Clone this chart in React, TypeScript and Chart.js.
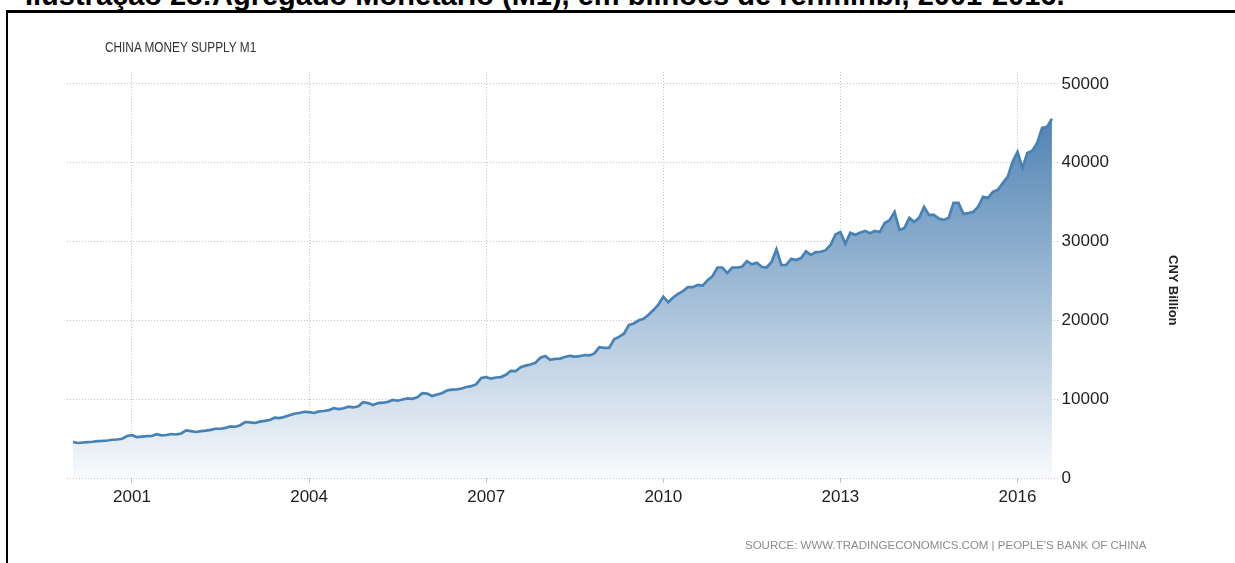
import React, { useEffect, useRef } from "react";
import { Chart, registerables } from "chart.js";

Chart.register(...registerables);

// China money supply M1, monthly, CNY billion (Jan 2000 - Aug 2016)
const startYear = 2000;
const m1_2000 = [4570, 4440, 4500, 4560, 4600, 4680, 4700, 4760, 4850, 4880, 4980, 5330];
const m1_2001 = [5430, 5200, 5250, 5300, 5330, 5560, 5400, 5450, 5580, 5520, 5650, 6050];
const m1_2002 = [5950, 5840, 5950, 6000, 6100, 6250, 6250, 6350, 6550, 6500, 6700, 7100];
const m1_2003 = [7050, 6980, 7150, 7250, 7350, 7650, 7600, 7750, 7950, 8150, 8250, 8400];
const m1_2004 = [8350, 8250, 8450, 8500, 8600, 8850, 8750, 8850, 9050, 8950, 9100, 9620];
const m1_2005 = [9500, 9260, 9500, 9550, 9650, 9900, 9800, 9950, 10100, 10050, 10250, 10770];
const m1_2006 = [10700, 10400, 10600, 10750, 11100, 11200, 11250, 11350, 11550, 11650, 11900, 12700];
const m1_2007 = [12800, 12600, 12750, 12800, 13100, 13600, 13550, 14050, 14250, 14400, 14600, 15250];
const m1_2008 = [15480, 15000, 15100, 15150, 15350, 15500, 15400, 15450, 15600, 15550, 15800, 16600];
const m1_2009 = [16500, 16500, 17600, 17900, 18300, 19400, 19600, 20000, 20200, 20700, 21300, 22000];
const m1_2010 = [23000, 22300, 22900, 23350, 23700, 24200, 24200, 24500, 24400, 25100, 25600, 26700];
const m1_2011 = [26700, 26000, 26700, 26700, 26800, 27500, 27100, 27300, 26800, 26700, 27400, 29000];
const m1_2012 = [27000, 27050, 27800, 27650, 27900, 28750, 28300, 28650, 28700, 28900, 29550, 30900];
const m1_2013 = [31200, 29700, 31100, 30850, 31100, 31350, 31050, 31350, 31200, 32350, 32700, 33750];
const m1_2014 = [31470, 31700, 33000, 32500, 33000, 34400, 33380, 33380, 32900, 32740, 33000, 34900];
const m1_2015 = [34900, 33500, 33600, 33750, 34400, 35660, 35530, 36300, 36550, 37400, 38200, 40100];
const m1_2016 = [41370, 39340, 41240, 41500, 42500, 44400, 44540, 45560];

const m1Years = [
  m1_2000, m1_2001, m1_2002, m1_2003, m1_2004, m1_2005, m1_2006, m1_2007, m1_2008,
  m1_2009, m1_2010, m1_2011, m1_2012, m1_2013, m1_2014, m1_2015, m1_2016,
];

const xTickYears = [2001, 2004, 2007, 2010, 2013, 2016];
const xTickLabels = ["2001", "2004", "2007", "2010", "2013", "2016"];
const yTickValues = [0, 10000, 20000, 30000, 40000, 50000];
const yTickLabels = ["0", "10000", "20000", "30000", "40000", "50000"];
const xRange = [1999.899, 2016.679];
const yRange = [0, 51500];

const captionText = "Ilustração 28:Agregado Monetário (M1), em bilhões de renminbi, 2001-2016.";
const chartTitle = "CHINA MONEY SUPPLY M1";
const yAxisTitle = "CNY Billion";
const sourceText = "SOURCE: WWW.TRADINGECONOMICS.COM | PEOPLE'S BANK OF CHINA";

export default function App() {
  const canvasRef = useRef<HTMLCanvasElement | null>(null);

  useEffect(() => {
    const points: { x: number; y: number }[] = [];
    m1Years.forEach((arr, yi) =>
      arr.forEach((v, mi) => points.push({ x: startYear + yi + mi / 12, y: v }))
    );
    const gridColor = "#c4c4c4";
    const chart = new Chart(canvasRef.current as HTMLCanvasElement, {
      type: "line",
      data: {
        datasets: [
          {
            data: points,
            borderColor: "#4682b6",
            borderWidth: 2.7,
            pointRadius: 0,
            tension: 0,
            fill: "origin",
            backgroundColor: (ctx: any) => {
              const c = ctx.chart;
              const area = c.chartArea;
              if (!area) return "rgba(70,130,180,0.4)";
              const g = c.ctx.createLinearGradient(0, area.top, 0, area.bottom);
              g.addColorStop(0, "#3c74a9");
              g.addColorStop(0.45, "#8fb0cf");
              g.addColorStop(1, "#f8fafc");
              return g;
            },
          },
        ],
      },
      options: {
        animation: false,
        responsive: false,
        layout: { padding: { left: 67, top: 72, right: 0, bottom: 0 } },
        plugins: { legend: { display: false }, tooltip: { enabled: false } },
        scales: {
          x: {
            type: "linear",
            min: xRange[0],
            max: xRange[1],
            afterBuildTicks: (s: any) => {
              s.ticks = xTickYears.map((v) => ({ value: v }));
            },
            afterFit: (s: any) => {
              s.height = 85;
            },
            ticks: {
              autoSkip: false,
              maxRotation: 0,
              padding: 4,
              color: "#1e1e1e",
              font: { family: "'Liberation Sans', Arial, sans-serif", size: 17 },
              callback: (v: any) => {
                const i = xTickYears.indexOf(Number(v));
                return i >= 0 ? xTickLabels[i] : "";
              },
            },
            grid: {
              color: gridColor,
              lineWidth: 1,
              drawTicks: true,
              tickLength: 5,
              tickColor: gridColor,
            },
            border: { display: false, dash: [1, 2] },
          },
          y: {
            position: "right",
            min: yRange[0],
            max: yRange[1],
            afterBuildTicks: (s: any) => {
              s.ticks = yTickValues.map((v) => ({ value: v }));
            },
            afterFit: (s: any) => {
              s.width = 177.4;
            },
            ticks: {
              padding: 4,
              color: "#1e1e1e",
              font: { family: "'Liberation Sans', Arial, sans-serif", size: 17 },
              callback: (v: any) => {
                const i = yTickValues.indexOf(Number(v));
                return i >= 0 ? yTickLabels[i] : "";
              },
            },
            grid: { color: gridColor, lineWidth: 1, drawTicks: false },
            border: { display: false, dash: [1, 2] },
          },
        },
      },
    } as any);
    return () => chart.destroy();
  }, []);

  return (
    <div
      style={{
        position: "absolute",
        left: 0,
        top: 0,
        width: 1235,
        height: 563,
        overflow: "hidden",
        background: "#ffffff",
        fontFamily: "'Liberation Sans', Arial, sans-serif",
      }}
    >
      <div
        style={{
          position: "absolute",
          left: 25,
          top: -19.5,
          fontSize: 29,
          lineHeight: 1,
          fontWeight: "bold",
          color: "#000",
          whiteSpace: "nowrap",
        }}
      >
        {captionText}
      </div>
      <div
        style={{
          position: "absolute",
          left: 6,
          top: 10,
          width: 1300,
          height: 700,
          borderTop: "3px solid #000",
          borderLeft: "2px solid #000",
        }}
      />
      <canvas
        ref={canvasRef}
        width={1235}
        height={563}
        style={{ position: "absolute", left: 0, top: 0, width: 1235, height: 563 }}
      />
      <div
        style={{
          position: "absolute",
          left: 105,
          top: 40,
          fontSize: 14,
          lineHeight: 1,
          color: "#333",
          whiteSpace: "nowrap",
          transform: "scaleX(0.845)",
          transformOrigin: "left top",
        }}
      >
        {chartTitle}
      </div>
      <div
        style={{
          position: "absolute",
          left: 1166.5,
          top: 255,
          fontSize: 13,
          lineHeight: "13px",
          fontWeight: "bold",
          color: "#222",
          whiteSpace: "nowrap",
          writingMode: "vertical-rl",
        }}
      >
        {yAxisTitle}
      </div>
      <div
        style={{
          position: "absolute",
          left: 745,
          top: 539.5,
          fontSize: 11.5,
          lineHeight: 1,
          color: "#8c8c8c",
          whiteSpace: "nowrap",
        }}
      >
        {sourceText}
      </div>
    </div>
  );
}
